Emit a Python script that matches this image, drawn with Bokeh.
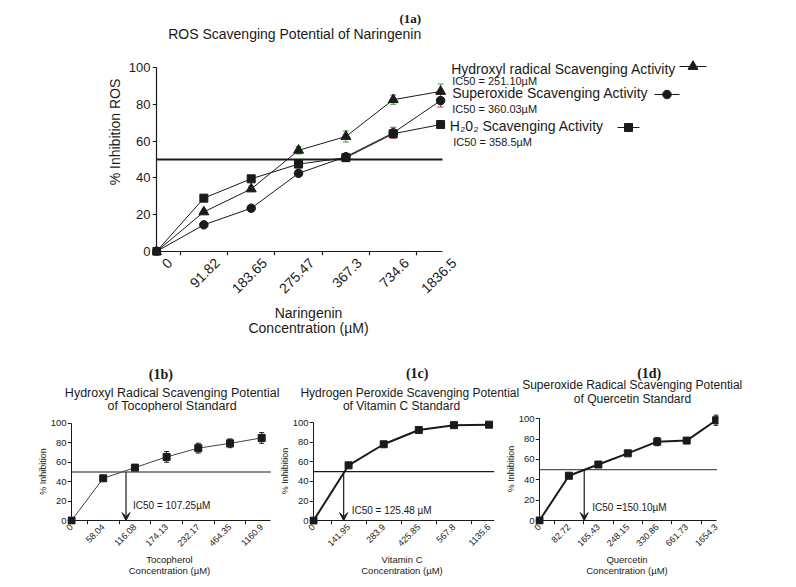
import math
from bokeh.plotting import figure
from bokeh.models import (Range1d, FixedTicker, LinearAxis, Whisker, TeeHead, Arrow,
                          VeeHead, ColumnDataSource, Label, Spacer)
from bokeh.layouts import column, row
from bokeh.embed import file_html
from bokeh.resources import INLINE
from bokeh.core.properties import value

SANS = "Liberation Sans"
SERIF = "Liberation Serif"
INK = "#1a1a1a"
GREEN = "#3c9a3c"
RED = "#c83c3c"

# ------------------------------------------------------------------ data
threshold = 50  # 50 % inhibition reference line

# (1a) Naringenin
a_categories = ["0", "91.82", "183.65", "275.47", "367.3", "734.6", "1836.5"]
a_hydroxyl = [0, 21.5, 34, 55, 62.5, 82.5, 87]
a_hydroxyl_err = [0, 1, 1.5, 2, 3, 2.5, 4]
a_superoxide = [0, 14.5, 23.5, 42.5, 51.5, 64.5, 82]
a_superoxide_err = [0, 1, 1, 1, 1.5, 3, 3.5]
a_h2o2 = [0, 29, 39.5, 47.5, 51, 64, 69]
a_h2o2_err = [0, 1, 1, 1, 1, 1, 1]
a_series_names = ["Hydroxyl radical Scavenging Activity",
                  "Superoxide Scavenging Activity",
                  "H\u20820\u2082 Scavenging Activity"]
a_ic50_texts = ["IC50 = 251.10\u00b5M", "IC50 = 360.03\u00b5M", "IC50 = 358.5\u00b5M"]
a_xtitle = ["Naringenin", "Concentration (\u00b5M)"]

# (1b) Tocopherol
b_categories = ["0", "58.04", "116.08", "174.13", "232.17", "464.35", "1160.9"]
b_values = [0, 43.5, 54.5, 65.5, 74.5, 79.5, 85]
b_err = [0, 1, 1.5, 5.5, 5, 4.5, 5.5]
b_ic50_pos = 1.72
b_ic50_text = "IC50 = 107.25\u00b5M"

# (1c) Vitamin C
c_categories = ["0", "141.95", "283.9", "425.85", "567.8", "1135.6"]
c_values = [0, 56.5, 78, 92.5, 97.5, 98]
c_err = [0, 1, 1, 1, 1, 1]
c_ic50_pos = 0.86
c_ic50_text = "IC50 = 125.48 \u00b5M"

# (1d) Quercetin
d_categories = ["0", "82.72", "165.43", "248.15", "330.86", "661.73", "1654.3"]
d_values = [0, 44, 55, 66, 77.5, 78.5, 98.5]
d_err = [0, 1, 1.5, 1, 4, 2.5, 5]
d_ic50_pos = 1.52
d_ic50_text = "IC50 =150.10\u00b5M"

y_ticks = [0, 20, 40, 60, 80, 100]


# ------------------------------------------------------------------ helpers
def build_fig(width, height, borders, xs, ys, pad=4):
    left, right, top, bottom = borders
    fw = width - left - right
    fh = height - top - bottom
    x0 = -pad / xs
    y0 = -pad / ys
    p = figure(width=width, height=height, output_backend="svg", toolbar_location=None,
               x_range=Range1d(x0, x0 + fw / xs), y_range=Range1d(y0, y0 + fh / ys),
               min_border_left=left, min_border_right=right, min_border_top=top,
               min_border_bottom=bottom, frame_align=False)
    p.grid.visible = False
    p.outline_line_color = None
    p.background_fill_color = "white"
    return p


def blank_canvas(width, height, x_range, y_range):
    p = figure(width=width, height=height, output_backend="svg", toolbar_location=None,
               x_range=x_range, y_range=y_range, x_axis_location=None,
               y_axis_location=None, min_border=0, frame_align=False)
    p.grid.visible = False
    p.outline_line_color = None
    return p


def style_y(p, tick_font, title, title_font, label_standoff, title_standoff, lw):
    # labels + title on the frame edge
    lab = p.yaxis[0]
    lab.ticker = FixedTicker(ticks=y_ticks)
    lab.bounds = (y_ticks[0], y_ticks[-1])
    lab.axis_line_color = None
    lab.major_tick_line_color = None
    lab.minor_tick_line_color = None
    lab.major_tick_in = 0
    lab.major_tick_out = 0
    lab.major_label_text_font = SANS
    lab.major_label_text_font_size = tick_font
    lab.major_label_text_color = INK
    lab.major_label_standoff = label_standoff
    lab.axis_label = title
    lab.axis_label_text_font = SANS
    lab.axis_label_text_font_size = title_font
    lab.axis_label_text_font_style = "normal"
    lab.axis_label_text_color = INK
    lab.axis_label_standoff = title_standoff
    # the axis line itself, drawn exactly at x = 0 (tick marks as label-less minor ticks)
    line = LinearAxis(ticker=FixedTicker(ticks=[], minor_ticks=y_ticks),
                      bounds=(y_ticks[0], y_ticks[-1]),
                      fixed_location=0, axis_line_color=INK, axis_line_width=lw,
                      major_tick_line_color=None,
                      minor_tick_line_color=INK, minor_tick_line_width=lw,
                      minor_tick_in=4, minor_tick_out=0, major_label_standoff=0)
    p.add_layout(line, "right")


def style_x(p, categories, axis_end, tick_font, title, title_font, label_shift,
            label_standoff, title_standoff, lw, title_bounds_end):
    n = len(categories)
    ticks = [round(i + label_shift, 3) for i in range(n)]
    lab = p.xaxis[0]
    lab.ticker = FixedTicker(ticks=ticks, minor_ticks=[])
    lab.major_label_overrides = {t: c for t, c in zip(ticks, categories)}
    lab.bounds = (0, title_bounds_end)
    lab.axis_line_color = None
    lab.major_tick_line_color = None
    lab.minor_tick_line_color = None
    lab.major_tick_in = 0
    lab.major_tick_out = 0
    lab.major_label_orientation = math.pi / 4
    lab.major_label_text_font = SANS
    lab.major_label_text_font_size = tick_font
    lab.major_label_text_color = INK
    lab.major_label_standoff = label_standoff
    if title:
        lab.axis_label = title
        lab.axis_label_text_font = SANS
        lab.axis_label_text_font_size = title_font
        lab.axis_label_text_font_style = "normal"
        lab.axis_label_text_color = INK
        lab.axis_label_standoff = title_standoff
        lab.axis_label_text_line_height = 1.0
    line = LinearAxis(ticker=FixedTicker(ticks=[], minor_ticks=[i + 0.5 for i in range(n - 1)]),
                      bounds=(0, axis_end), fixed_location=0, axis_line_color=INK,
                      axis_line_width=lw, major_tick_line_color=None,
                      minor_tick_line_color=INK, minor_tick_line_width=lw,
                      minor_tick_in=4, minor_tick_out=0, major_label_standoff=0)
    p.add_layout(line, "above")


def add_text(p, xs, ys, texts, size, font=SANS, style="normal", align="left"):
    p.text(x=xs, y=ys, text=texts, text_font=value(font), text_font_size=value(size),
           text_font_style=value(style), text_align=align, text_baseline="middle",
           text_color=INK)


def whisker(p, src, up, lo, color, size=6):
    p.add_layout(Whisker(source=src, base="x", upper=up, lower=lo, line_color=color,
                         line_width=1,
                         upper_head=TeeHead(size=size, line_color=color, line_width=1),
                         lower_head=TeeHead(size=size, line_color=color, line_width=1)))


# ------------------------------------------------------------------ (1a)
A_XS, A_YS = 47.35, 1.84
A_LEFT, A_BOTTOM, A_W, A_H = 144, 49, 780, 296
A_AXIS_END = 6.04
pa = build_fig(A_W, A_H, (A_LEFT, 0, 0, A_BOTTOM), A_XS, A_YS)
A_X0_PX = 8 + A_LEFT + 4           # page x of first category
A_Y0_PX = 8 + (A_H - A_BOTTOM) - 4  # page y of 0 %


def ax_(px):
    return (px - A_X0_PX) / A_XS


def ay_(py):
    return (A_Y0_PX - py) / A_YS


style_y(pa, "13px", "% Inhibition ROS", "14px", 2, 3, 1.2)
style_x(pa, a_categories, A_AXIS_END, "14px", None, None, 0.28, 5, 0, 1.2, 6.4)

pa.segment(x0=[0], y0=[threshold], x1=[A_AXIS_END], y1=[threshold], line_color=INK,
           line_width=2)

xa = list(range(len(a_categories)))
srca = ColumnDataSource(dict(
    x=xa, hyd=a_hydroxyl, sup=a_superoxide, h2=a_h2o2,
    hyd_up=[v + e for v, e in zip(a_hydroxyl, a_hydroxyl_err)],
    hyd_lo=[v - e for v, e in zip(a_hydroxyl, a_hydroxyl_err)],
    sup_up=[v + e for v, e in zip(a_superoxide, a_superoxide_err)],
    sup_lo=[v - e for v, e in zip(a_superoxide, a_superoxide_err)],
    h2_up=[v + e for v, e in zip(a_h2o2, a_h2o2_err)],
    h2_lo=[v - e for v, e in zip(a_h2o2, a_h2o2_err)],
))
for col in ["h2", "sup", "hyd"]:
    pa.line("x", col, source=srca, line_color=INK, line_width=1)
whisker(pa, srca, "h2_up", "h2_lo", INK)
whisker(pa, srca, "sup_up", "sup_lo", RED)
whisker(pa, srca, "hyd_up", "hyd_lo", GREEN)
pa.scatter("x", "h2", source=srca, marker="square", size=8, color=INK)
pa.scatter("x", "sup", source=srca, marker="circle", size=8.5, color=INK)
pa.scatter("x", "hyd", source=srca, marker="triangle", size=10, color=INK)

# titles of (1a)  (page-pixel layout positions)
add_text(pa, [ax_(409.8)], [ay_(18)], ["(1a)"], "13px", font=SERIF, style="bold",
         align="center")
add_text(pa, [ax_(294.2)], [ay_(33)], ["ROS Scavenging Potential of Naringenin"], "14px",
         align="center")

# legend of (1a)
leg_name_pos = [(450.7, 68.5), (451.7, 92.5), (449.3, 125.0)]
leg_ic50_pos = [(451.7, 80.3), (451.7, 108.8), (452.7, 141.0)]
add_text(pa, [ax_(x) for x, _ in leg_name_pos], [ay_(y) for _, y in leg_name_pos],
         a_series_names, "14px")
add_text(pa, [ax_(x) for x, _ in leg_ic50_pos], [ay_(y) for _, y in leg_ic50_pos],
         a_ic50_texts, "11px")
leg_keys = [("triangle", 679, 706, 66, 10), ("circle", 654, 679, 94, 8.5),
            ("square", 617, 639, 127, 8)]
for mk, x0, x1, y, sz in leg_keys:
    pa.segment(x0=[ax_(x0)], y0=[ay_(y)], x1=[ax_(x1)], y1=[ay_(y)], line_color=INK,
               line_width=1.2)
    pa.scatter([ax_((x0 + x1) / 2)], [ay_(y)], marker=mk, size=sz, color=INK)


# ------------------------------------------------------------------ bottom charts
def small_chart(width, borders, xs, ys, axis_end, cats, vals, errs, lw, line_color,
                xlabel, ic50_pos, ic50_text, ic50_y, ic50_dx, thr_color):
    p = build_fig(width, 167, borders, xs, ys)
    style_y(p, "9.5px", "% Inhibition", "9px", 1, 0, 1)
    style_x(p, cats, axis_end, "9px", xlabel, "9.5px", 0.0, 1, 2, 1, axis_end)
    p.segment(x0=[0], y0=[threshold], x1=[axis_end], y1=[threshold], line_color=thr_color,
              line_width=1.2)
    src = ColumnDataSource(dict(
        x=list(range(len(cats))), v=vals,
        up=[v + e for v, e in zip(vals, errs)],
        lo=[v - e for v, e in zip(vals, errs)]))
    p.line("x", "v", source=src, line_color=line_color, line_width=lw)
    whisker(p, src, "up", "lo", INK, size=5)
    p.scatter("x", "v", source=src, marker="square", size=7, color=INK)
    p.add_layout(Arrow(end=VeeHead(size=8, fill_color=INK, line_color=INK),
                       x_start=ic50_pos, y_start=threshold, x_end=ic50_pos, y_end=0,
                       line_color=INK, line_width=1.2))
    p.add_layout(Label(x=ic50_pos, y=ic50_y, x_offset=ic50_dx, text=ic50_text,
                       text_font=SANS, text_font_size="10px", text_baseline="middle",
                       text_color=INK))
    return p


pb = small_chart(268, (59, 5, 6, 52), 31.7, 1.0, 6.29, b_categories, b_values, b_err,
                 1, "#444444", "Tocopherol\nConcentration (\u00b5M)",
                 b_ic50_pos, b_ic50_text, 16, 7, INK)
pc = small_chart(226, (32, 8, 5, 51), 35.3, 1.016, 5.15, c_categories, c_values, c_err,
                 2, INK, "Vitamin C\nConcentration (\u00b5M)",
                 c_ic50_pos, c_ic50_text, 10.5, 8, INK)
pd = small_chart(286, (32, 70, 1, 53), 29.6, 1.037, 6.03, d_categories, d_values, d_err,
                 2, INK, "Quercetin\nConcentration (\u00b5M)",
                 d_ic50_pos, d_ic50_text, 12.5, 8, "#555555")

# text strip between the rows: x-axis title of (1a) and titles of the bottom row
STRIP_TOP = 8 + A_H
strip = blank_canvas(780, 412 - STRIP_TOP, Range1d(8, 788), Range1d(412, STRIP_TOP))
add_text(strip, [308, 308], [312.5, 327.5], a_xtitle, "14px", align="center")
add_text(strip, [160.3, 416.7, 648.7], [373.7, 373.0, 372.5], ["(1b)", "(1c)", "(1d)"],
         "14px", font=SERIF, style="bold", align="center")
add_text(strip, [171.7, 171.7], [392.0, 405.0],
         ["Hydroxyl Radical Scavenging Potential", "of Tocopherol Standard"], "12.5px",
         align="center")
add_text(strip, [409.3, 401.0], [392.5, 405.8],
         ["Hydrogen Peroxide Scavenging Potential", "of Vitamin C Standard"], "12px",
         align="center")
add_text(strip, [631.7, 632.0], [384.7, 398.3],
         ["Superoxide Radical Scavenging Potential", "of Quercetin Standard"], "12px",
         align="center")

content = column(pa, strip, row(pb, pc, pd))
layout = row(Spacer(width=8), column(Spacer(height=8), content))
open("out.html", "w").write(file_html(layout, INLINE))
